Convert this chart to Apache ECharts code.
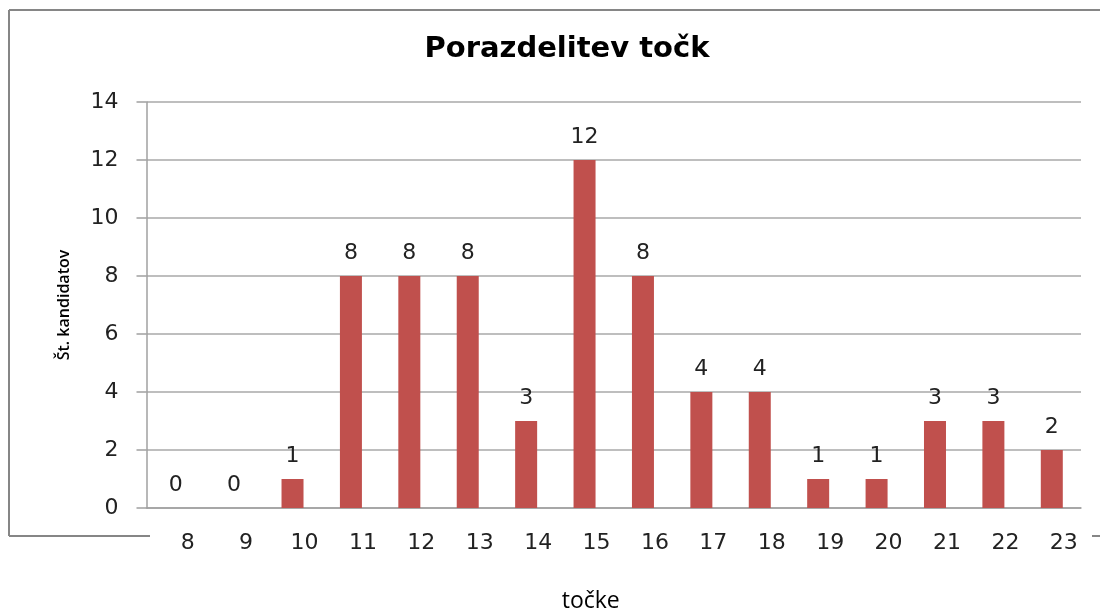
<!DOCTYPE html>
<html>
<head>
<meta charset="utf-8">
<script src="https://cdn.jsdelivr.net/npm/echarts@6/dist/echarts.min.js"></script>
<style>
    html, body { margin: 0; padding: 0; background: #fff; overflow: hidden; }
    #chart { width: 1100px; height: 610px; }
</style>
</head>
<body>
<div id="chart"></div>
<script>
    // tocke (x kategorije) in stevilo kandidatov
    var points = ['8', '9', '10', '11', '12', '13', '14', '15', '16', '17', '18', '19', '20', '21', '22', '23'];
    var candidates = [0, 0, 1, 8, 8, 8, 3, 12, 8, 4, 4, 1, 1, 3, 3, 2];

    var chart = echarts.init(document.getElementById('chart'));
    chart.setOption({
        animation: false,
        title: {
            text: 'Porazdelitev točk',
            left: 562,
            top: 30,
            textAlign: 'center',
            textStyle: { fontFamily: 'DejaVu Sans', fontWeight: 'bold', fontSize: 29, color: '#000' }
        },
        graphic: [
            { type: 'line', shape: { x1: 9, y1: 10, x2: 1110, y2: 10 }, style: { stroke: '#868686', lineWidth: 2 } },
            { type: 'line', shape: { x1: 9, y1: 10, x2: 9, y2: 536 }, style: { stroke: '#868686', lineWidth: 2 } },
            { type: 'line', shape: { x1: 9, y1: 536, x2: 150, y2: 536 }, style: { stroke: '#868686', lineWidth: 2 } },
            { type: 'line', shape: { x1: 1092, y1: 536, x2: 1110, y2: 536 }, style: { stroke: '#868686', lineWidth: 2 } }
        ],
        grid: {
            left: 146.5,
            right: 19,
            top: 102,
            bottom: 102,
            containLabel: false,
            outerBoundsMode: 'none'
        },
        xAxis: {
            type: 'category',
            data: points,
            name: 'točke',
            nameLocation: 'middle',
            nameGap: 82,
            nameTextStyle: { fontFamily: 'Open Sans', fontSize: 23, color: '#000', padding: [0, 46, 0, 0] },
            axisLine: { lineStyle: { color: '#A0A0A0', width: 1.5 } },
            axisTick: { show: false },
            axisLabel: {
                margin: 24,
                fontFamily: 'DejaVu Sans',
                fontSize: 22,
                color: '#222',
                padding: [0, 0, 0, 24]
            }
        },
        yAxis: {
            type: 'value',
            min: 0,
            max: 14,
            interval: 2,
            name: 'Št. kandidatov',
            nameLocation: 'middle',
            nameGap: 74,
            nameTextStyle: { fontFamily: 'Open Sans', fontWeight: 600, fontSize: 16, color: '#000' },
            axisLine: { show: true, lineStyle: { color: '#A0A0A0', width: 1.5 } },
            axisTick: { show: true, length: 10, lineStyle: { color: '#A0A0A0', width: 1.5 } },
            axisLabel: {
                margin: 28,
                fontFamily: 'DejaVu Sans',
                fontSize: 22,
                color: '#222'
            },
            splitLine: { lineStyle: { color: '#A8A8A8', width: 1.5 } }
        },
        series: [
            {
                name: 'Št. kandidatov',
                type: 'bar',
                data: candidates,
                barWidth: 22,
                itemStyle: { color: '#C0504D' },
                label: {
                    show: true,
                    position: 'top',
                    distance: 12,
                    fontFamily: 'DejaVu Sans',
                    fontSize: 22,
                    color: '#222'
                }
            }
        ]
    });
</script>
</body>
</html>
